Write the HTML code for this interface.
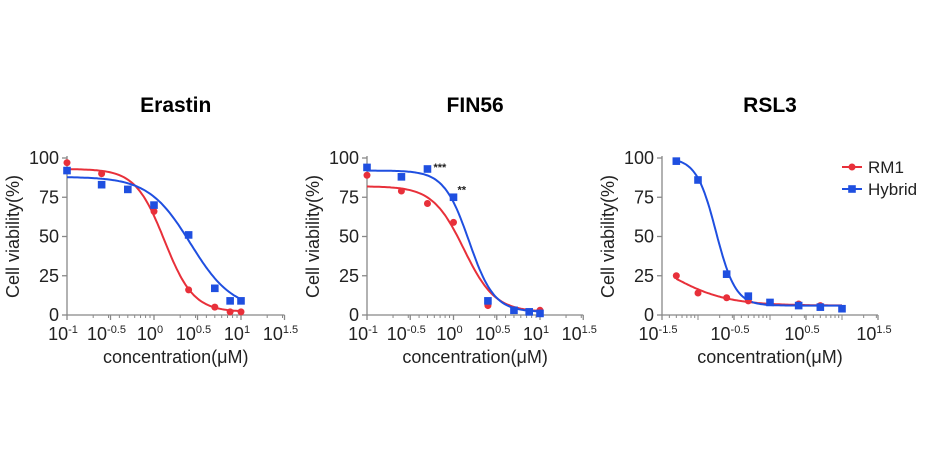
<!DOCTYPE html>
<html><head><meta charset="utf-8"><style>
body{margin:0;background:#fff;}
svg{display:block;font-family:"Liberation Sans",Arial,sans-serif;}
</style></head><body>
<svg id="c" width="925" height="463"></svg>
<script>
const concErastin=[0.1,0.25,0.5,1,2.5,5,7.5,10];
const rm1Erastin=[97,90,80,66,16,5,2,2];
const hybErastin=[92,83,80,70,51,17,9,9];
const concFIN=[0.1,0.25,0.5,1,2.5,5,7.5,10];
const rm1FIN=[89,79,71,59,6,3,2,3];
const hybFIN=[94,88,93,75,9,3,2,1];
const concRSL=[0.05,0.1,0.25,0.5,1,2.5,5,10];
const rm1RSL=[25,14,11,9,8,7,6,4];
const hybRSL=[98,86,26,12,8,6,5,4];
const yTicks=[0,25,50,75,100];
// fit params [top,bottom,logEC50,hill]
const fitRM1=[[93,2,0.12,2.6],[82,2,0.12,2.4],[45,6,-1.4,1.1]];
const fitHyb=[[88,3,0.42,1.8],[92,2,0.18,3.0],[100,6,-0.75,3.2]];
const titles=["Erastin","FIN56","RSL3"];
const NS="http://www.w3.org/2000/svg";
const svg=document.getElementById('c');
function mk(t,a,p){const e=document.createElementNS(NS,t);for(const k in a)e.setAttribute(k,a[k]);(p||svg).appendChild(e);return e;}
const panels=[
 {x0:67,lmin:-1,lmax:1.5,dec:87,conc:concErastin,r:rm1Erastin,h:hybErastin,labs:[-1,-0.5,0,0.5,1,1.5]},
 {x0:367,lmin:-1,lmax:1.5,dec:86.5,conc:concFIN,r:rm1FIN,h:hybFIN,labs:[-1,-0.5,0,0.5,1,1.5]},
 {x0:662,lmin:-1.5,lmax:1.5,dec:72,conc:concRSL,r:rm1RSL,h:hybRSL,labs:[-1.5,-0.5,0.5,1.5]}
];
const yTop=158,yBot=315;
function Y(v){return yBot-(v/100)*(yBot-yTop);}
panels.forEach((p,i)=>{
 const g=mk('g',{});
 
 
 const X=l=>p.x0+(l-p.lmin)*p.dec;
 const xEnd=X(p.lmax);
 const t=mk('text',{x:(p.x0+xEnd)/2,y:112,'text-anchor':'middle','font-size':21,'font-weight':'bold',fill:'#000'},g);
 t.textContent=titles[i];
 
 const ya=mk('line',{x1:p.x0,y1:yTop-2,x2:p.x0,y2:yBot,stroke:'#888','stroke-width':1.3},g);
 
 const xa=mk('line',{x1:p.x0,y1:yBot,x2:xEnd,y2:yBot,stroke:'#888','stroke-width':1.3},g);
 
 yTicks.forEach(v=>{
  mk('line',{x1:p.x0-5,y1:Y(v),x2:p.x0,y2:Y(v),stroke:'#888','stroke-width':1.3},g);
  const tl=mk('text',{x:p.x0-8,y:Y(v)+6,'text-anchor':'end','font-size':18,fill:'#222'},g);
  tl.textContent=v;
  
 });
 for(let d=Math.floor(p.lmin);d<p.lmax;d++){for(let m=1;m<10;m++){const l=d+Math.log10(m);if(l<p.lmin-1e-6||l>p.lmax+1e-6)continue;
  mk('line',{x1:X(l),y1:yBot,x2:X(l),y2:yBot+(m==1?5:3),stroke:'#888','stroke-width':1},g);}}
 p.labs.forEach(l=>{
  mk('line',{x1:X(l),y1:yBot,x2:X(l),y2:yBot+5,stroke:'#888','stroke-width':1.3},g);
  const tl=mk('text',{x:X(l)-4,y:yBot+25,'text-anchor':'middle','font-size':18,fill:'#222'},g);
  
  tl.textContent='10';
  const s=mk('tspan',{dy:-7,'font-size':11},tl);s.textContent=String(l);
 });
 const xt=mk('text',{x:(p.x0+xEnd)/2,y:yBot+48,'text-anchor':'middle','font-size':18,fill:'#222'},g);
 xt.textContent='concentration(μM)';
 
 const yt=mk('text',{x:0,y:0,'text-anchor':'middle','font-size':18,fill:'#222',transform:`translate(${p.x0-48},${(yTop+yBot)/2}) rotate(-90)`},g);
 yt.textContent='Cell viability(%)';
 
 const lo=Math.log10(p.conc[0]),hi=Math.log10(p.conc[p.conc.length-1]);
 [[fitRM1[i],'#e8303a','rm1'],[fitHyb[i],'#1f4fe0','hybrid']].forEach(([f,c,n])=>{
  let d='';for(let k=0;k<=100;k++){const l=lo+(hi-lo)*k/100;const v=f[1]+(f[0]-f[1])/(1+Math.pow(10,(l-f[2])*f[3]));d+=(k?'L':'M')+X(l).toFixed(1)+','+Y(v).toFixed(1);}
  const pa=mk('path',{d:d,fill:'none',stroke:c,'stroke-width':2},g);
  
 });
 p.r.forEach((v,k)=>{const cc=mk('circle',{cx:X(Math.log10(p.conc[k])),cy:Y(v),r:3.5,fill:'#e8303a'},g);
  });
 p.h.forEach((v,k)=>{const r=mk('rect',{x:X(Math.log10(p.conc[k]))-3.8,y:Y(v)-3.8,width:7.6,height:7.6,fill:'#1f4fe0'},g);
  });
 if(i==1){
  const a1=mk('text',{x:X(Math.log10(0.5))+6,y:Y(93)+2,'font-size':11,fill:'#222','font-weight':'bold'},g);a1.textContent='***';
  
  const a2=mk('text',{x:X(0)+4,y:Y(75)-4,'font-size':11,fill:'#222','font-weight':'bold'},g);a2.textContent='**';
  
 }
});
const lg=mk('g',{});

[['RM1','#e8303a',167,'c'],['Hybrid','#1f4fe0',189,'s']].forEach(([t,c,y,m])=>{
 const e=mk('g',{},lg);
 
 mk('line',{x1:842,y1:y,x2:862,y2:y,stroke:c,'stroke-width':2},e);
 if(m=='c')mk('circle',{cx:852,cy:y,r:3.5,fill:c},e);else mk('rect',{x:848.2,y:y-3.8,width:7.6,height:7.6,fill:c},e);
 const tx=mk('text',{x:868,y:y+6,'font-size':17,fill:'#222'},e);tx.textContent=t;
});
</script>
</body></html>
